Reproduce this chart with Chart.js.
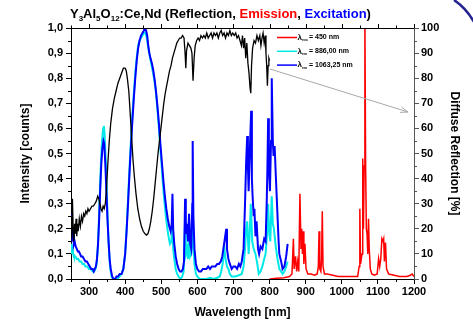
<!DOCTYPE html>
<html>
<head>
<meta charset="utf-8">
<script src="https://cdn.jsdelivr.net/npm/chart.js@4.4.1/dist/chart.umd.min.js"></script>
<style>
    html, body { margin: 0; padding: 0; background: #fff; }
</style>
</head>
<body>
<canvas id="chart" width="473" height="323"></canvas>
<script>
// diffuse reflection [%] (right axis)
var reflWl = [250, 252, 254, 256, 258, 260, 262, 264, 266, 268, 270, 273, 276, 279, 282, 285, 288, 291, 294, 297,
    300, 304, 308, 312, 316, 320, 324, 327, 330, 333, 336, 339, 342, 345, 348, 352, 356, 360, 365, 370,
    375, 380, 385, 390, 395, 400, 403, 406, 410, 414, 418, 422, 426, 430, 435, 440, 445, 450, 455, 459,
    463, 467, 471, 475, 479, 483, 487, 491, 495, 499, 503, 507, 511, 515, 519, 523, 527, 531, 535, 539,
    543, 547, 551, 555, 559, 563, 566, 568, 570, 574, 578, 582, 585, 588, 591, 594, 598, 602, 606, 610,
    614, 618, 622, 626, 630, 634, 638, 642, 646, 650, 654, 658, 662, 666, 670, 674, 678, 682, 686, 690,
    694, 698, 702, 706, 710, 714, 718, 722, 725, 728, 731, 734, 737, 740, 743, 746, 748, 750, 753, 757,
    761, 765, 769, 773, 776, 779, 782, 785, 788, 790, 792, 794, 796, 798, 800];
var reflPct = [25, 16, 32, 20, 15, 22, 18, 24, 17, 22, 19, 24, 21, 25, 23, 26, 25, 27, 26, 28,
    27, 28, 29, 29, 30, 31, 33, 32, 30, 28, 27, 29, 28, 30, 35, 46, 55, 62, 68, 72,
    75, 78, 80, 82, 84, 84, 83, 80, 75, 66, 56, 47, 40, 34, 28, 24, 21, 19, 18, 17.5,
    18, 20, 23, 27, 32, 38, 44, 50, 55, 60, 65, 70, 74, 77, 80, 83, 85, 88, 90, 92,
    94, 95, 96, 96, 97, 96, 90, 84, 91, 94, 93, 92, 90, 79, 88, 93, 95, 96, 95, 97,
    96, 97, 96, 98, 96, 97, 98, 96, 98, 97, 98, 96, 98, 99, 97, 98, 96, 98, 97, 99,
    97, 98, 97, 98, 96, 97, 95, 93, 97, 92, 96, 88, 94, 86, 82, 76, 74, 85, 92, 95,
    94, 97, 95, 97, 93, 96, 98, 94, 97, 90, 85, 77, 85, 88, 87];

// excitation, lambda_em = 886,00 nm
var ex886Wl = [250, 252, 254, 256, 258, 262, 266, 270, 274, 278, 282, 286, 290, 295, 300, 305, 310, 314, 318, 321,
    324, 327, 330, 333, 336, 339, 341, 343, 346, 349, 352, 355, 358, 362, 366, 372, 378, 384, 390, 395,
    400, 404, 408, 412, 416, 420, 424, 428, 432, 436, 440, 444, 448, 452, 456, 460, 464, 468, 472, 476,
    480, 484, 488, 492, 496, 500, 504, 508, 512, 516, 520, 524, 528, 531, 533, 536, 540, 544, 548, 553,
    558, 562, 566, 568, 571, 574, 577, 580, 583, 586, 587, 589, 592, 596, 600, 606, 615, 625, 635, 645,
    655, 662, 666, 670, 673, 675, 678, 682, 686, 690, 695, 705, 715, 723, 728, 732, 735, 738, 742, 745,
    748, 752, 756, 761, 766, 770, 775, 780, 785, 789, 793, 796, 799, 802, 806, 809, 812, 817, 822, 827,
    832, 836, 841, 846, 850];
var ex886Int = [0.14, 0.10, 0.13, 0.10, 0.09, 0.09, 0.08, 0.08, 0.07, 0.07, 0.06, 0.06, 0.05, 0.05, 0.04, 0.04, 0.03, 0.03, 0.04, 0.06,
    0.12, 0.22, 0.35, 0.47, 0.55, 0.60, 0.61, 0.58, 0.48, 0.35, 0.22, 0.12, 0.05, 0.01, 0.0, 0.0, 0.0, 0.01, 0.02, 0.04,
    0.10, 0.20, 0.32, 0.44, 0.55, 0.65, 0.74, 0.82, 0.88, 0.93, 0.95, 0.96, 0.97, 0.98, 0.98, 0.96, 0.92, 0.89, 0.86, 0.83,
    0.80, 0.76, 0.70, 0.63, 0.55, 0.47, 0.39, 0.32, 0.26, 0.21, 0.17, 0.14, 0.15, 0.22, 0.12, 0.08, 0.04, 0.02, 0.01, 0.0,
    0.01, 0.03, 0.23, 0.10, 0.12, 0.08, 0.18, 0.09, 0.10, 0.18, 0.30, 0.14, 0.06, 0.02, 0.01, 0.0, 0.0, 0.0, 0.005, 0.0,
    0.005, 0.01, 0.03, 0.06, 0.10, 0.12, 0.08, 0.05, 0.04, 0.02, 0.01, 0.01, 0.015, 0.02, 0.05, 0.12, 0.20, 0.23, 0.10, 0.18,
    0.30, 0.15, 0.12, 0.10, 0.06, 0.02, 0.03, 0.05, 0.08, 0.10, 0.18, 0.30, 0.18, 0.15, 0.33, 0.22, 0.20, 0.13, 0.08, 0.04,
    0.03, 0.02, 0.03, 0.05, 0.07];

// excitation, lambda_em = 1063,25 nm
var ex1063Wl = [250, 252, 254, 256, 258, 260, 263, 266, 269, 272, 275, 278, 282, 286, 290, 294, 298, 302, 306, 310,
    313, 316, 319, 322, 325, 328, 331, 334, 337, 340, 342, 345, 348, 351, 354, 357, 360, 364, 368, 372,
    376, 380, 385, 390, 395, 400, 404, 408, 412, 416, 420, 424, 428, 432, 436, 440, 444, 448, 452, 455,
    458, 461, 464, 467, 470, 474, 478, 482, 486, 490, 494, 498, 502, 506, 510, 514, 518, 522, 526, 529,
    531, 533, 536, 540, 544, 548, 552, 556, 560, 563, 566, 568, 571, 574, 577, 580, 583, 586, 587, 589,
    592, 596, 600, 605, 610, 615, 620, 625, 630, 635, 640, 645, 650, 655, 660, 665, 669, 672, 676, 680,
    682, 686, 690, 695, 700, 705, 710, 715, 719, 723, 728, 732, 735, 738, 740, 742, 744, 746, 749, 751,
    753, 756, 758, 761, 764, 768, 771, 775, 780, 785, 789, 792, 794, 796, 798, 801, 804, 806, 809, 811,
    814, 817, 820, 822, 825, 827, 832, 836, 841, 846, 850];
var ex1063Int = [0.20, 0.26, 0.15, 0.19, 0.14, 0.15, 0.13, 0.12, 0.11, 0.11, 0.10, 0.09, 0.09, 0.08, 0.07, 0.07, 0.06, 0.05, 0.04, 0.04,
    0.03, 0.04, 0.05, 0.08, 0.14, 0.24, 0.36, 0.46, 0.52, 0.55, 0.54, 0.46, 0.35, 0.24, 0.15, 0.08, 0.04, 0.01, 0.0, 0.0,
    0.01, 0.01, 0.02, 0.02, 0.04, 0.10, 0.19, 0.30, 0.42, 0.53, 0.63, 0.72, 0.80, 0.87, 0.92, 0.95, 0.97, 0.98, 0.99, 1.0,
    0.99, 0.97, 0.93, 0.90, 0.88, 0.86, 0.83, 0.79, 0.74, 0.68, 0.61, 0.53, 0.46, 0.39, 0.33, 0.28, 0.24, 0.21, 0.19, 0.22,
    0.34, 0.20, 0.14, 0.09, 0.06, 0.04, 0.03, 0.03, 0.04, 0.07, 0.32, 0.18, 0.22, 0.15, 0.26, 0.14, 0.12, 0.30, 0.55, 0.25,
    0.12, 0.06, 0.04, 0.03, 0.03, 0.04, 0.04, 0.04, 0.05, 0.04, 0.05, 0.05, 0.05, 0.06, 0.06, 0.07, 0.09, 0.12, 0.16, 0.20,
    0.12, 0.08, 0.06, 0.04, 0.05, 0.05, 0.04, 0.06, 0.05, 0.07, 0.12, 0.30, 0.46, 0.57, 0.45, 0.35, 0.45, 0.54, 0.67, 0.40,
    0.33, 0.25, 0.28, 0.17, 0.23, 0.12, 0.10, 0.13, 0.12, 0.16, 0.15, 0.30, 0.44, 0.64, 0.45, 0.35, 0.55, 0.80, 0.55, 0.49,
    0.53, 0.42, 0.32, 0.25, 0.15, 0.10, 0.07, 0.04, 0.05, 0.09, 0.14];

// emission, lambda_exc = 450 nm
var emWl = [800, 820, 840, 855, 862, 866, 868, 872, 875, 878, 881, 884, 887, 889, 891, 893, 895, 898, 901, 906,
    915, 925, 932, 935, 937, 939, 942, 944, 946, 948, 952, 960, 975, 990, 1010, 1030, 1044, 1048, 1050, 1052,
    1056, 1058, 1060, 1062, 1064, 1066, 1068, 1070, 1072, 1074, 1076, 1079, 1083, 1090, 1098, 1102, 1105, 1108, 1111, 1114,
    1116, 1118, 1121, 1124, 1130, 1145, 1160, 1180, 1190, 1195, 1200];
var emInt = [0.0, 0.003, 0.005, 0.01, 0.02, 0.16, 0.04, 0.09, 0.03, 0.07, 0.03, 0.34, 0.12, 0.20, 0.10, 0.19, 0.06, 0.14, 0.04, 0.02,
    0.02, 0.015, 0.02, 0.05, 0.19, 0.04, 0.03, 0.08, 0.27, 0.05, 0.02, 0.02, 0.015, 0.01, 0.01, 0.01, 0.01, 0.05, 0.28, 0.06,
    0.10, 0.48, 0.20, 0.45, 1.05, 0.45, 0.20, 0.18, 0.10, 0.24, 0.12, 0.04, 0.02, 0.015, 0.02, 0.08, 0.05, 0.08, 0.16, 0.15,
    0.16, 0.07, 0.145, 0.04, 0.02, 0.015, 0.01, 0.01, 0.015, 0.02, 0.01];

var xTicks = [300, 400, 500, 600, 700, 800, 900, 1000, 1100, 1200];
var yTicks = [0, 0.1, 0.2, 0.3, 0.4, 0.5, 0.6, 0.7, 0.8, 0.9, 1.0];
var y2Ticks = [0, 10, 20, 30, 40, 50, 60, 70, 80, 90, 100];

var legendLabels = [
    {sub: 'exc', text: '= 450 nm', color: '#ff0000'},
    {sub: 'em', text: '= 886,00 nm', color: '#00e8e8'},
    {sub: 'em', text: '= 1063,25 nm', color: '#0000ff'}
];

var FONT = '"Liberation Sans", Arial, sans-serif';

function pts(xs, ys) {
    return xs.map(function (x, i) { return {x: x, y: ys[i]}; });
}

function fixTicks(list) {
    return function (scale) {
        scale.ticks = list.map(function (v) { return {value: v}; });
    };
}

var extras = {
    id: 'extras',
    afterDraw: function (chart) {
        var ctx = chart.ctx;
        var a = chart.chartArea;
        var x = chart.scales.x, y = chart.scales.y, y2 = chart.scales.y2;
        var v, p;
        ctx.save();

        // top frame with small ticks, minor ticks on the other axes
        ctx.strokeStyle = '#000';
        ctx.lineWidth = 1;
        ctx.beginPath();
        ctx.moveTo(a.left, a.top + 0.5);
        ctx.lineTo(a.right, a.top + 0.5);
        for (v = 250; v <= 1200; v += 50) {
            p = Math.round(x.getPixelForValue(v)) + 0.5;
            var l = (v % 100 === 0) ? 4 : 2.5;
            ctx.moveTo(p, a.top);
            ctx.lineTo(p, a.top - l);
            if (v % 100 !== 0) {
                ctx.moveTo(p, a.bottom);
                ctx.lineTo(p, a.bottom + 3);
            }
        }
        for (v = 0.05; v < 1; v += 0.1) {
            p = Math.round(y.getPixelForValue(v)) + 0.5;
            ctx.moveTo(a.left, p);
            ctx.lineTo(a.left - 3, p);
        }
        ctx.stroke();
        ctx.strokeStyle = '#555';
        ctx.beginPath();
        for (v = 5; v < 100; v += 10) {
            p = Math.round(y2.getPixelForValue(v)) + 0.5;
            ctx.moveTo(a.right, p);
            ctx.lineTo(a.right + 3, p);
        }
        ctx.stroke();

        // title with subscripts and coloured words
        var parts = [
            {t: 'Y'}, {t: '3', sub: true}, {t: 'Al'}, {t: '5', sub: true}, {t: 'O'}, {t: '12', sub: true},
            {t: ':Ce,Nd (Reflection, '}, {t: 'Emission', c: '#ff0000'}, {t: ', '},
            {t: 'Excitation', c: '#0000ff'}, {t: ')'}
        ];
        var tx = 70, ty = 18;
        ctx.textBaseline = 'alphabetic';
        ctx.textAlign = 'left';
        parts.forEach(function (s) {
            ctx.font = 'bold ' + (s.sub ? 8 : 13) + 'px ' + FONT;
            ctx.fillStyle = s.c || '#000';
            ctx.fillText(s.t, tx, s.sub ? ty + 3 : ty);
            tx += ctx.measureText(s.t).width;
        });

        // legend
        legendLabels.forEach(function (it, i) {
            var ly = 37.5 + i * 13.8;
            ctx.strokeStyle = it.color;
            ctx.lineWidth = 1.5;
            ctx.beginPath();
            ctx.moveTo(277, ly);
            ctx.lineTo(297, ly);
            ctx.stroke();
            ctx.fillStyle = '#000';
            ctx.textBaseline = 'middle';
            ctx.font = 'bold 8px ' + FONT;
            ctx.fillText('\u03bb', 297.5, ly);
            ctx.font = 'bold 3.5px ' + FONT;
            ctx.fillText(it.sub, 302, ly + 3);
            ctx.font = 'bold 7px ' + FONT;
            ctx.fillText(it.text, 309, ly);
        });

        // arrow pointing to the right axis
        var x0 = 270, y0 = 69, x1 = 408, y1 = 112;
        var ang = Math.atan2(y1 - y0, x1 - x0);
        ctx.strokeStyle = '#a8a8a8';
        ctx.lineWidth = 1;
        ctx.beginPath();
        ctx.moveTo(x0, y0);
        ctx.lineTo(x1, y1);
        ctx.moveTo(x1 - 8 * Math.cos(ang - 0.35), y1 - 8 * Math.sin(ang - 0.35));
        ctx.lineTo(x1, y1);
        ctx.lineTo(x1 - 8 * Math.cos(ang + 0.35), y1 - 8 * Math.sin(ang + 0.35));
        ctx.stroke();

        // corner arc
        ctx.strokeStyle = '#23238f';
        ctx.lineWidth = 2.5;
        ctx.beginPath();
        ctx.moveTo(454, 0);
        ctx.quadraticCurveTo(466, 8, 474, 22);
        ctx.stroke();

        ctx.restore();
    }
};

var tickFont = {family: FONT, size: 11, weight: 'bold'};
var titleFont = {family: FONT, size: 12, weight: 'bold'};

var ctx = document.getElementById('chart').getContext('2d');
new Chart(ctx, {
    type: 'line',
    data: {
        datasets: [{
            label: 'Reflection',
            data: pts(reflWl, reflPct),
            yAxisID: 'y2',
            borderColor: '#000',
            borderWidth: 1.3,
            order: 0
        }, {
            label: 'lem 1063,25',
            data: pts(ex1063Wl, ex1063Int),
            yAxisID: 'y',
            borderColor: '#0000ff',
            borderWidth: 2,
            order: 1
        }, {
            label: 'lem 886',
            data: pts(ex886Wl, ex886Int),
            yAxisID: 'y',
            borderColor: '#00e8e8',
            borderWidth: 2,
            order: 2
        }, {
            label: 'lexc 450',
            data: pts(emWl, emInt),
            yAxisID: 'y',
            borderColor: '#ff0000',
            borderWidth: 1.5,
            order: 3
        }]
    },
    options: {
        responsive: false,
        animation: false,
        events: [],
        layout: {padding: {top: 28, left: 0, right: 0, bottom: 0}},
        elements: {point: {radius: 0}, line: {tension: 0}},
        plugins: {legend: {display: false}, tooltip: {enabled: false}, title: {display: false}},
        scales: {
            x: {
                type: 'linear',
                min: 250,
                max: 1200,
                afterBuildTicks: fixTicks(xTicks),
                afterFit: function (s) { s.height = 44; },
                grid: {display: true, drawOnChartArea: false, drawTicks: true, tickLength: 5, color: '#000'},
                border: {display: true, color: '#000', width: 1},
                ticks: {
                    color: '#000', font: tickFont, padding: 1, maxRotation: 0,
                    callback: function (v) { return String(v); }
                },
                title: {display: true, text: 'Wavelength [nm]', color: '#000', font: titleFont, padding: {top: 0, bottom: 3}}
            },
            y: {
                position: 'left',
                min: 0,
                max: 1,
                afterBuildTicks: fixTicks(yTicks),
                afterFit: function (s) { s.width = 71; },
                grid: {display: true, drawOnChartArea: false, drawTicks: true, tickLength: 5, color: '#000'},
                border: {display: true, color: '#000', width: 1},
                ticks: {
                    color: '#000', font: tickFont, padding: 3,
                    callback: function (v) { return v.toFixed(1).replace('.', ','); }
                },
                title: {display: true, text: 'Intensity [counts]', color: '#000', font: titleFont, padding: {top: 18, bottom: 0}}
            },
            y2: {
                position: 'right',
                min: 0,
                max: 100,
                afterBuildTicks: fixTicks(y2Ticks),
                afterFit: function (s) { s.width = 59; },
                grid: {display: true, drawOnChartArea: false, drawTicks: true, tickLength: 5, color: '#555'},
                border: {display: true, color: '#555', width: 1},
                ticks: {color: '#000', font: tickFont, padding: 2},
                title: {display: true, text: 'Diffuse Reflection [%]', color: '#000', font: titleFont, padding: {top: 11, bottom: 0}}
            }
        }
    },
    plugins: [extras]
});
</script>
</body>
</html>
